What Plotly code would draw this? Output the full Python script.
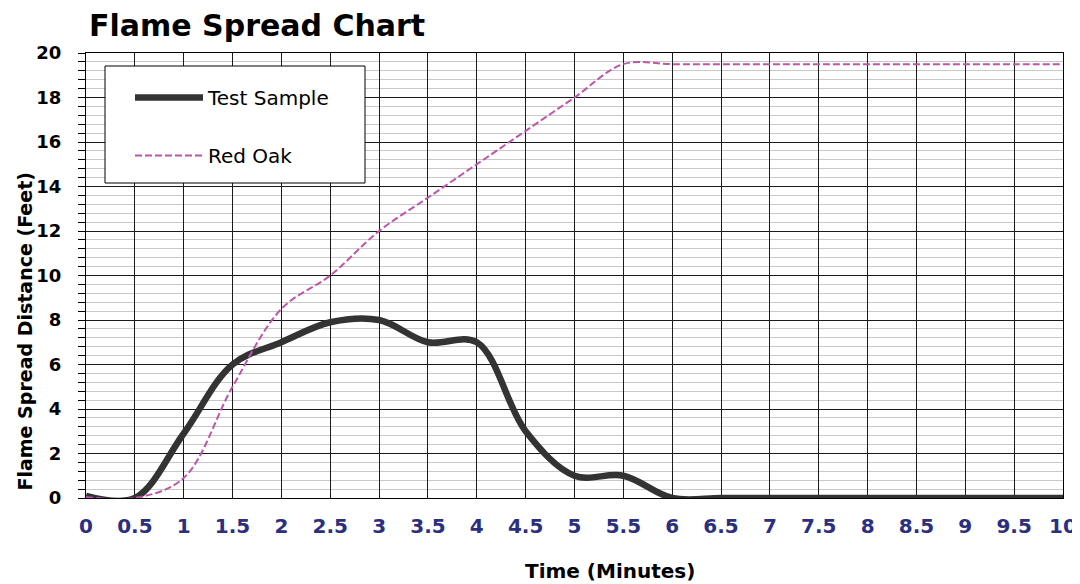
import plotly.graph_objects as go

time_min = [0, 0.5, 1, 1.5, 2, 2.5, 3, 3.5, 4, 4.5, 5, 5.5, 6, 6.5, 7, 7.5, 8, 8.5, 9, 9.5, 10]
test_sample = [0.1, 0, 2.9, 6, 7, 7.9, 8, 7, 7, 3, 1, 1, 0, 0, 0, 0, 0, 0, 0, 0, 0]
red_oak = [0.05, 0, 0.9, 5, 8.5, 10, 12, 13.5, 15, 16.5, 18, 19.5, 19.5, 19.5, 19.5, 19.5, 19.5, 19.5, 19.5, 19.5, 19.5]

x_ticks = [0, 0.5, 1, 1.5, 2, 2.5, 3, 3.5, 4, 4.5, 5, 5.5, 6, 6.5, 7, 7.5, 8, 8.5, 9, 9.5, 10]
x_tick_labels = ["0", "0.5", "1", "1.5", "2", "2.5", "3", "3.5", "4", "4.5", "5", "5.5", "6", "6.5", "7", "7.5", "8", "8.5", "9", "9.5", "10"]
y_ticks = [0, 2, 4, 6, 8, 10, 12, 14, 16, 18, 20]

FONT = "DejaVu Sans"

# The page body has an 8px margin, so the figure is sized to fit the window.
W, H = 1072, 576
L, R, T, B = 78, 17, 45, 86
PW = W - L - R
PH = H - T - B


def px_x(x):
    return (x - L) / PW


def px_y(y):
    return 1 - (y - T) / PH


fig = go.Figure()
fig.add_trace(go.Scatter(
    x=time_min, y=test_sample, name="Test Sample", mode="lines",
    line=dict(color="#333333", width=6.5, shape="spline", smoothing=1),
    legendgroup="a",
))
fig.add_trace(go.Scatter(
    x=time_min, y=red_oak, name="Red Oak", mode="lines",
    line=dict(color="#C055A8", width=2, shape="spline", smoothing=1, dash="7px,3px"),
    legendgroup="b",
))

fig.update_layout(
    width=W, height=H,
    margin=dict(l=L, r=R, t=T, b=B, autoexpand=False),
    paper_bgcolor="white", plot_bgcolor="white",
    title=dict(text="<b>Flame Spread Chart</b>", x=81 / W, xanchor="left", xref="container",
               y=1 - 17.5 / H, yanchor="middle", yref="container",
               font=dict(family=FONT, size=30, color="black")),
    showlegend=True,
    legend=dict(x=px_x(122), y=px_y(70), xanchor="left", yanchor="top",
                bgcolor="rgba(0,0,0,0)", borderwidth=0,
                font=dict(family=FONT, size=20, color="black"),
                traceorder="grouped", tracegroupgap=29, itemwidth=68),
    xaxis=dict(range=[0, 10], tickvals=x_ticks, ticktext=x_tick_labels,
               showgrid=True, gridcolor="#1a1a1a", gridwidth=1,
               showline=True, linecolor="black", linewidth=1, mirror=True,
               ticks="", zeroline=False, automargin=False,
               tickfont=dict(family=FONT, size=20, color="#2B2F80", weight="bold"),
               ticklabelstandoff=10),
    yaxis=dict(range=[0, 20], tickvals=y_ticks,
               showgrid=True, gridcolor="#1a1a1a", gridwidth=1,
               showline=True, linecolor="black", linewidth=1, mirror=True,
               ticks="outside", ticklen=7, tickcolor="black", zeroline=False, automargin=False,
               minor=dict(dtick=0.4, showgrid=True, gridcolor="#c8c8c8", gridwidth=1,
                          ticks="outside", ticklen=7, tickcolor="black"),
               tickfont=dict(family=FONT, size=18, color="black", weight="bold"),
               ticklabelstandoff=13),
    shapes=[
        dict(type="rect", xref="paper", yref="paper",
             x0=px_x(97), x1=px_x(357), y0=px_y(175), y1=px_y(58),
             fillcolor="white", line=dict(color="black", width=1), layer="above"),
    ],
    annotations=[
        dict(text="<b>Time (Minutes)</b>", xref="paper", yref="paper",
             x=px_x(601.7), y=px_y(563), xanchor="center", yanchor="middle",
             showarrow=False, font=dict(family=FONT, size=20, color="black")),
        dict(text="<b>Flame Spread Distance (Feet)</b>", xref="paper", yref="paper",
             x=px_x(16), y=px_y(323.5), xanchor="center", yanchor="middle",
             textangle=-90, showarrow=False, font=dict(family=FONT, size=19, color="black")),
    ],
)

fig.write_html("out.html")
